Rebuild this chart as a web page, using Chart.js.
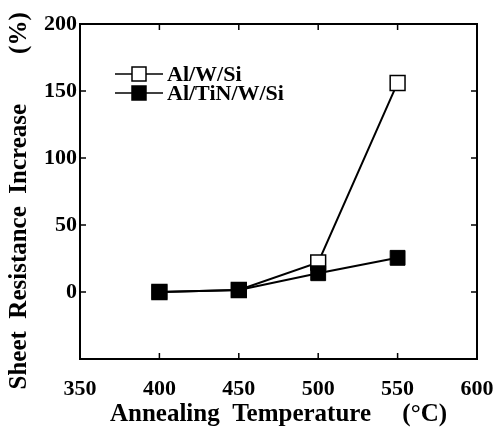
<!DOCTYPE html>
<html>
<head>
<meta charset="utf-8">
<script src="https://cdn.jsdelivr.net/npm/chart.js@4"></script>
<style>
  body { margin: 0; background: #fff; }
  #wrap { width: 501px; height: 432px; }
</style>
</head>
<body>
<div id="wrap"><canvas id="chart" width="501" height="432"></canvas></div>
<script>
// values
const temps = [400, 450, 500, 550];
const alWSi = [0, 1.5, 22, 156];
const alTiNWSi = [0, 1.5, 14, 25.5];
const xTicks = [350, 400, 450, 500, 550, 600];
const yTicks = [-50, 0, 50, 100, 150, 200];

const serif = "'Liberation Serif', 'Times New Roman', serif";

// frame, inward tick marks and the boxed-in legend
const framePlugin = {
    id: 'frame',
    afterDatasetsDraw(chart) {
        const { ctx, chartArea: a, scales } = chart;
        ctx.save();
        ctx.strokeStyle = '#000';
        ctx.lineWidth = 2;
        ctx.strokeRect(a.left, a.top, a.right - a.left, a.bottom - a.top);

        ctx.lineWidth = 1.5;
        ctx.beginPath();
        xTicks.slice(1, -1).forEach(v => {
            const x = scales.x.getPixelForValue(v);
            ctx.moveTo(x, a.bottom); ctx.lineTo(x, a.bottom - 6);
            ctx.moveTo(x, a.top); ctx.lineTo(x, a.top + 6);
        });
        yTicks.slice(1, -1).forEach(v => {
            const y = scales.y.getPixelForValue(v);
            ctx.moveTo(a.left, y); ctx.lineTo(a.left + 6, y);
            ctx.moveTo(a.right, y); ctx.lineTo(a.right - 6, y);
        });
        ctx.stroke();

        // legend
        const rows = [74, 93];
        ctx.font = 'bold 22px ' + serif;
        ctx.textBaseline = 'middle';
        chart.data.datasets.forEach((ds, i) => {
            const y = rows[i];
            ctx.lineWidth = 1.5;
            ctx.beginPath();
            ctx.moveTo(115, y); ctx.lineTo(163, y);
            ctx.stroke();
            ctx.fillStyle = ds.pointBackgroundColor;
            ctx.fillRect(132, y - 7, 14, 14);
            ctx.strokeRect(132, y - 7, 14, 14);
            ctx.fillStyle = '#000';
            ctx.fillText(ds.label, 167, y + 1);
        });
        ctx.restore();
    }
};

new Chart(document.getElementById('chart'), {
    type: 'line',
    data: {
        datasets: [
            {
                label: 'Al/W/Si',
                data: temps.map((t, i) => ({ x: t, y: alWSi[i] })),
                borderColor: '#000',
                borderWidth: 2,
                pointStyle: 'rect',
                pointRadius: 10.5,
                pointBackgroundColor: '#fff',
                pointBorderColor: '#000',
                pointBorderWidth: 1.5,
                order: 1
            },
            {
                label: 'Al/TiN/W/Si',
                data: temps.map((t, i) => ({ x: t, y: alTiNWSi[i] })),
                borderColor: '#000',
                borderWidth: 2,
                pointStyle: 'rect',
                pointRadius: 10.5,
                pointBackgroundColor: '#000',
                pointBorderColor: '#000',
                pointBorderWidth: 1,
                order: 0
            }
        ]
    },
    options: {
        responsive: false,
        animation: false,
        layout: { padding: { top: 24, right: 24, left: 0, bottom: 0 } },
        plugins: { legend: { display: false }, tooltip: { enabled: false } },
        scales: {
            x: {
                type: 'linear',
                min: 350,
                max: 600,
                afterBuildTicks: s => { s.ticks = xTicks.map(v => ({ value: v })); },
                afterFit: s => {
                    s.height = 73;
                    s.paddingLeft = 0;
                    s.paddingRight = 0;
                },
                grid: { display: false, drawTicks: false },
                border: { display: false },
                ticks: {
                    color: '#000',
                    padding: 17,
                    maxRotation: 0,
                    font: { family: serif, size: 22, weight: 'bold' }
                },
                title: {
                    display: true,
                    text: 'Annealing  Temperature     (°C)',
                    color: '#000',
                    padding: { top: 0, bottom: 2 },
                    font: { family: serif, size: 25, weight: 'bold' }
                }
            },
            y: {
                min: -50,
                max: 200,
                afterBuildTicks: s => { s.ticks = yTicks.map(v => ({ value: v })); },
                afterFit: s => { s.width = 80; },
                grid: { display: false, drawTicks: false },
                border: { display: false },
                ticks: {
                    color: '#000',
                    padding: 3,
                    callback: v => v === -50 ? '' : v,
                    font: { family: serif, size: 22, weight: 'bold' }
                },
                title: {
                    display: true,
                    text: 'Sheet  Resistance  Increase        (%)   ',
                    color: '#000',
                    padding: { top: 5, bottom: 0 },
                    font: { family: serif, size: 25, weight: 'bold' }
                }
            }
        }
    },
    plugins: [framePlugin]
});
</script>
</body>
</html>
